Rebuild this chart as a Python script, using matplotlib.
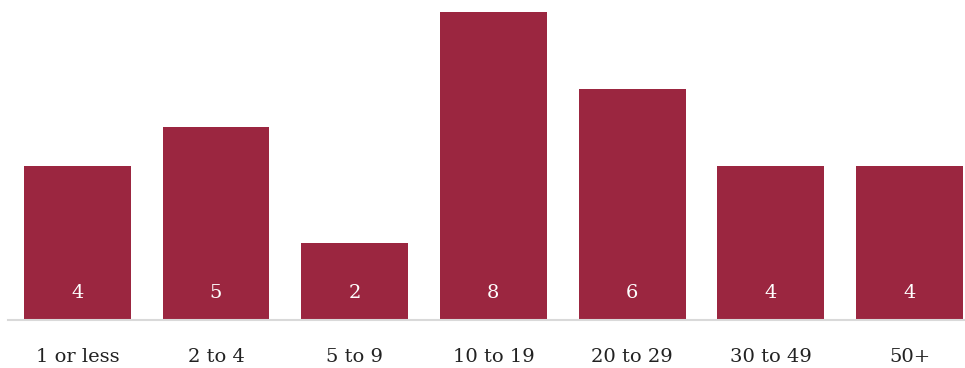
import matplotlib.pyplot as plt

categories = ["1 or less", "2 to 4", "5 to 9", "10 to 19", "20 to 29", "30 to 49", "50+"]
values = [4, 5, 2, 8, 6, 4, 4]

plt.rcParams['font.family'] = ['DejaVu Serif']

fig = plt.figure(figsize=(9.65, 3.68), dpi=100)
ax = fig.add_axes([8 / 965, 48 / 368, 957 / 965, 320 / 368])

x = range(len(categories))
ax.bar(x, values, width=0.77, color='#9B2640')

for i, v in enumerate(values):
    ax.text(i, 0.7, str(v), ha='center', va='center', color='white', fontsize=14)

ax.set_xlim(-0.5, 6.4)
ax.set_ylim(0, 8 * 320 / 308)
ax.set_xticks(list(x))
ax.set_xticklabels(categories, fontsize=14, color='#222222')
ax.tick_params(axis='x', length=0, pad=20)
ax.set_yticks([])
for s in ['top', 'right', 'left']:
    ax.spines[s].set_visible(False)
ax.spines['bottom'].set_color('#d9d9d9')
ax.spines['bottom'].set_linewidth(1.5)

fig.savefig('out.png', dpi=100)
